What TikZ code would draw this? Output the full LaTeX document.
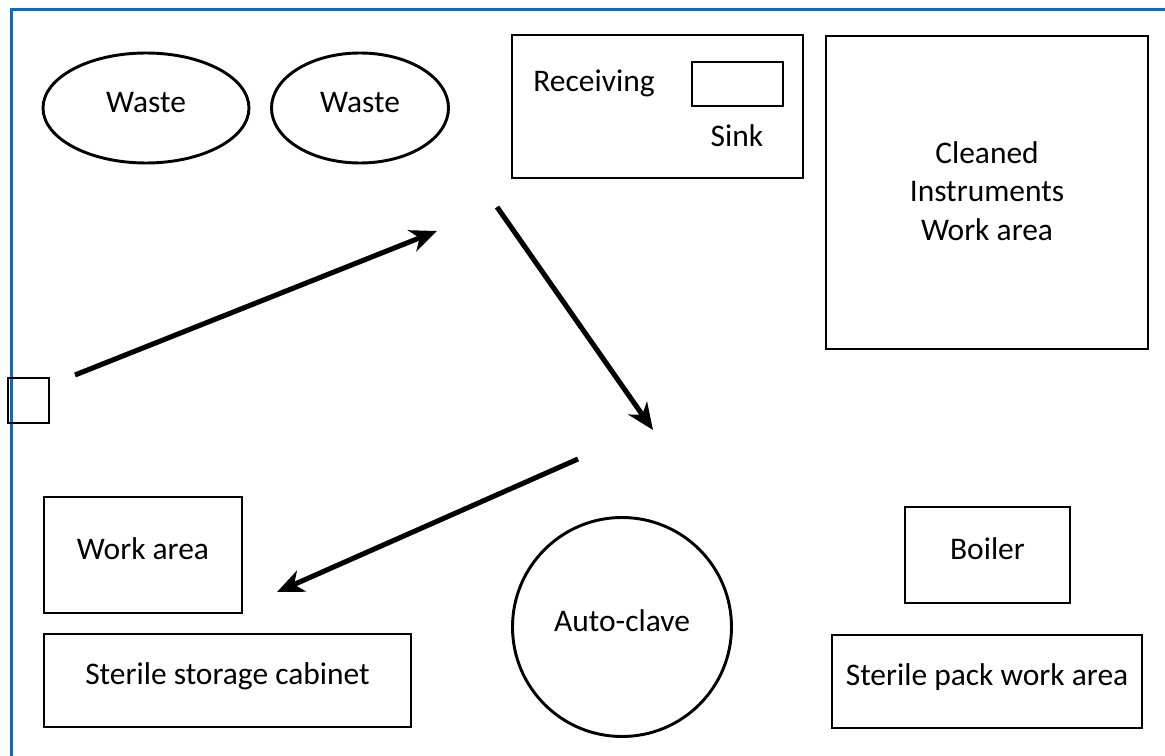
\documentclass[tikz,border=0pt]{standalone}
\usepackage{fontspec}
\setmainfont{Carlito}
\usetikzlibrary{arrows.meta,shapes.geometric,fit}
\definecolor{frameblue}{RGB}{10,108,188}
% lengths given in screen pixels
\newcommand\pxl[1]{#1*0.75pt}
\tikzset{
  txtsize/.style={font=\fontsize{23.6}{28.9}\selectfont},
  box/.style={draw, rectangle, line width=2.2pt, inner sep=0pt,
    text height=0.644em, text depth=0pt},
  oval/.style={draw, ellipse, line width=2.2pt, inner sep=0pt,
    text height=0.644em, text depth=0pt},
  boxtext/.style={inner sep=0pt, text height=0.644em, text depth=0pt},
  lbl/.style={anchor=base, inner sep=0pt},
  flow/.style={line width=3.8pt, -{Stealth[length=20pt,width=17pt,inset=6pt]}}
}
\begin{document}
\begin{tikzpicture}[x=0.75pt, y=-0.75pt, txtsize]
\useasboundingbox (0,0) rectangle (1165,756);

% room outline (top and left walls)
\draw[frameblue, line width=2.5pt] (1165,9.5) -- (11.5,9.5) -- (11.5,756);

% waste bins
\node[oval, minimum width=\pxl{206}, minimum height=\pxl{110}] (waste1) at (146,108) {Waste};
\node[oval, minimum width=\pxl{177}, minimum height=\pxl{110}] (waste2) at (360,108) {Waste};

% receiving area with sink
\node[box, fit={(512,35) (803,178)}] (recv) {};
\node[box, fit={(692,62) (783,106)}] (sink) {};
\node[lbl] (recvT) at (594,92) {Receiving};
\node[lbl] (sinkT) at (737,147) {Sink};

% cleaned instruments work area
\node[box, fit={(826,36) (1148,349)}] (clean) {};
\node[align=center, inner sep=0pt] (cleanT) at (987,191) {Cleaned\\Instruments\\Work area};

% door
\node[box, fit={(8,378) (49,423)}] (door) {};

% lower row
\node[box, fit={(44,497) (242,613)}] (work) {};
\node[boxtext] at (work.center) (workT) {Work area};
\node[box, fit={(44,634) (411,727)}] (store) {};
\node[boxtext] at (store.center) (storeT) {Sterile storage cabinet};
\node[draw, circle, line width=2.2pt, inner sep=0pt, minimum size=\pxl{219},
  text height=0.644em, text depth=0pt] (clave) at (622,627) {Auto-clave};
\node[box, fit={(905,507) (1070,603)}] (boiler) {};
\node[boxtext] at (boiler.center) (boilerT) {Boiler};
\node[box, fit={(832,635) (1142,728)}] (pack) {};
\node[boxtext] at (pack.center) (packT) {Sterile pack work area};

% workflow
\coordinate (f1s) at (75,375);
\coordinate (f1e) at (437,231);
\coordinate (f2s) at (497,207);
\coordinate (f2e) at (653,430);
\coordinate (f3s) at (578,459);
\coordinate (f3e) at (277,592);
\draw[flow] (f1s) -- (f1e);
\draw[flow] (f2s) -- (f2e);
\draw[flow] (f3s) -- (f3e);
\end{tikzpicture}
\end{document}
